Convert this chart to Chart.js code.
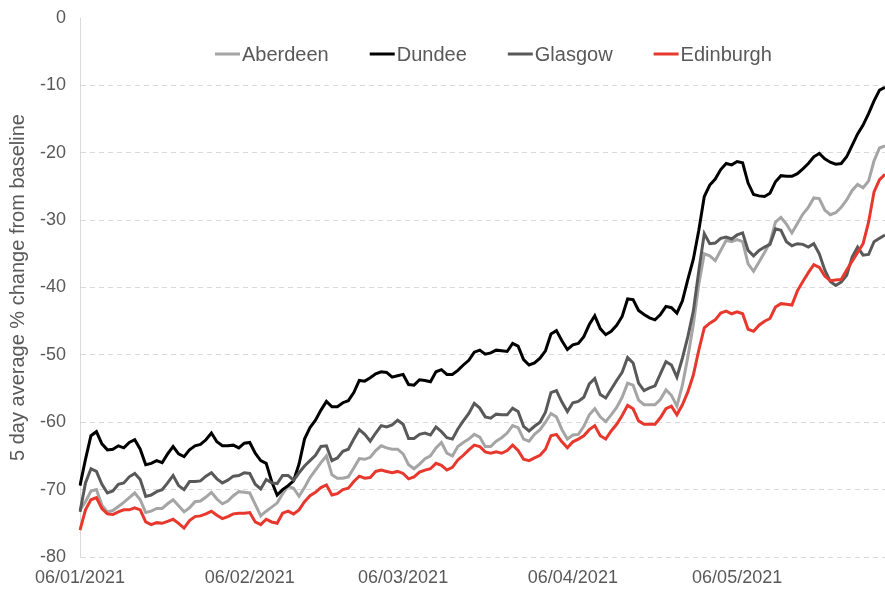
<!DOCTYPE html>
<html>
<head>
<meta charset="utf-8">
<title>5 day average % change from baseline</title>
<script src="https://cdn.jsdelivr.net/npm/chart.js@4.4.1/dist/chart.umd.min.js"></script>
<style>
  html, body { margin: 0; padding: 0; background: #fff; }
  #wrap { width: 885px; height: 592px; position: relative; }
</style>
</head>
<body>
<div id="wrap"><canvas id="chart"></canvas></div>
<script>
// daily values, 06/01/2021 onwards
const aberdeen = [
  -73.0, -71.8, -70.2, -70.0, -72.3, -73.3, -73.1, -72.5, -71.9, -71.2, -70.5, -71.5, -73.4, -73.2, -72.8, -72.8,
  -72.1, -71.5, -72.4, -73.3, -72.7, -71.8, -71.7, -71.1, -70.4, -71.4, -72.1, -71.7, -70.9, -70.3, -70.4, -70.5,
  -72.2, -73.9, -73.2, -72.6, -72.0, -70.6, -69.5, -69.8, -71.0, -69.7, -68.2, -67.1, -66.0, -65.0, -67.8, -68.3,
  -68.3, -68.1, -66.8, -65.4, -65.5, -65.2, -64.2, -63.5, -63.8, -64.0, -64.0, -64.7, -66.3, -66.9, -66.2, -65.4,
  -65.0, -63.8, -63.0, -64.6, -65.0, -63.6, -63.0, -62.5, -61.8, -62.2, -63.6, -63.6, -62.8, -62.3, -61.6, -60.5,
  -60.8, -62.5, -62.8, -61.8, -61.1, -60.0, -58.7, -59.2, -61.1, -62.5, -61.9, -61.8, -60.6, -58.9, -58.0, -59.2,
  -59.9, -58.9, -57.8, -56.3, -54.2, -54.5, -56.7, -57.4, -57.4, -57.4, -56.6, -55.2, -56.0, -57.6, -54.5, -50.3,
  -45.5, -39.5, -35.0, -35.3, -36.0, -34.5, -33.0, -33.2, -32.9, -33.2, -36.5, -37.6,
  -36.2, -34.8, -33.3, -30.3, -29.6, -30.6, -31.9, -30.5, -29.1, -28.1, -26.7, -26.8, -28.5, -29.2, -28.9, -28.1,
  -27.0, -25.6, -24.7, -25.2, -24.2, -21.2, -19.3, -19.0
];

const dundee = [
  -69.4, -65.5, -62.0, -61.4, -63.2, -64.1, -64.0, -63.5, -63.8, -63.0, -62.6, -64.0, -66.3, -66.1, -65.7, -66.0,
  -64.7, -63.6, -64.7, -65.1, -64.1, -63.5, -63.3, -62.6, -61.6, -62.9, -63.5, -63.5, -63.4, -63.8, -63.1, -63.0,
  -64.6, -65.7, -66.1, -68.8, -70.8, -70.0, -69.4, -68.7, -66.2, -62.5, -60.8, -59.7, -58.2, -56.9, -57.7, -57.7,
  -57.1, -56.8, -55.6, -53.8, -53.9, -53.4, -52.8, -52.5, -52.6, -53.3, -53.1, -52.9, -54.4, -54.5, -53.7, -53.8,
  -54.0, -52.5, -52.2, -52.9, -52.9, -52.3, -51.5, -50.8, -49.6, -49.3, -49.9, -49.7, -49.3, -49.4, -49.5, -48.3,
  -48.7, -50.7, -51.5, -51.2, -50.5, -49.4, -46.9, -46.4, -47.9, -49.2, -48.5, -48.3, -47.3, -45.5, -44.2, -46.1,
  -47.0, -46.5, -45.6, -44.3, -41.7, -41.8, -43.4, -44.0, -44.5, -44.8, -44.0, -42.8, -43.0, -43.8, -42.0, -38.8,
  -35.8, -31.5, -26.5, -24.8, -23.9, -22.5, -21.6, -21.8, -21.3, -21.5, -24.5, -26.2,
  -26.4, -26.5, -26.0, -24.3, -23.4, -23.5, -23.5, -23.1, -22.4, -21.6, -20.6, -20.1, -20.9, -21.4, -21.7, -21.6,
  -20.6, -18.9, -17.2, -15.9, -14.2, -12.3, -10.7, -10.3
];

const glasgow = [
  -73.3, -69.0, -66.9, -67.3, -69.2, -70.5, -70.2, -69.2, -69.0, -68.1, -67.6, -68.5, -71.0, -70.8, -70.3, -70.0,
  -69.0, -67.9, -69.4, -70.0, -68.8, -68.8, -68.7, -68.0, -67.5, -68.4, -69.0, -68.6, -68.0, -67.9, -67.5, -67.6,
  -69.2, -69.9, -68.5, -69.0, -69.1, -67.9, -67.9, -68.6, -67.5, -66.5, -65.7, -64.9, -63.6, -63.5, -65.7, -65.3,
  -64.3, -64.0, -62.5, -61.1, -61.8, -62.8, -61.6, -60.5, -60.7, -60.4, -59.7, -60.3, -62.4, -62.4, -61.8, -61.6,
  -61.9, -60.7, -61.4, -62.3, -62.5, -61.0, -59.8, -58.7, -57.2, -57.9, -59.2, -59.4, -58.8, -58.9, -58.9, -57.9,
  -58.4, -60.6, -61.3, -60.6, -60.0, -58.5, -55.6, -55.3, -57.0, -58.4, -57.1, -56.9, -56.3, -54.3, -53.5, -55.9,
  -56.4, -55.1, -53.8, -52.6, -50.4, -51.2, -54.2, -55.3, -54.9, -54.6, -52.8, -51.0, -51.5, -53.3, -50.5, -47.3,
  -43.5, -37.5, -32.0, -33.5, -33.4, -32.7, -32.5, -32.8, -32.2, -31.9, -34.5, -35.3,
  -34.5, -34.0, -33.6, -31.3, -31.5, -33.2, -33.8, -33.5, -33.6, -34.0, -33.5, -35.0, -37.4, -39.1, -39.7, -39.2,
  -38.2, -35.5, -34.0, -35.2, -35.1, -33.2, -32.7, -32.2
];

const edinburgh = [
  -76.0, -73.0, -71.5, -71.2, -72.8, -73.6, -73.7, -73.3, -73.0, -73.0, -72.7, -73.0, -74.8, -75.2, -74.9, -75.0,
  -74.7, -74.4, -75.0, -75.7, -74.6, -74.0, -73.9, -73.6, -73.2, -73.8, -74.3, -74.0, -73.6, -73.5, -73.5, -73.4,
  -74.8, -75.2, -74.4, -74.8, -75.0, -73.5, -73.2, -73.6, -73.0, -71.8, -70.9, -70.4, -69.7, -69.3, -70.8, -70.6,
  -70.0, -69.8, -68.8, -68.0, -68.3, -68.2, -67.3, -67.1, -67.3, -67.5, -67.3, -67.6, -68.4, -68.1, -67.4, -67.1,
  -66.9, -66.1, -66.4, -67.1, -66.7, -65.6, -64.9, -64.1, -63.4, -63.6, -64.4, -64.6, -64.4, -64.6, -64.2, -63.4,
  -64.2, -65.5, -65.7, -65.3, -64.9, -64.0, -62.0, -61.8, -62.9, -63.8, -62.9, -62.5, -62.0, -61.1, -60.5, -62.0,
  -62.5, -61.3, -60.3, -59.0, -57.5, -58.0, -59.8, -60.3, -60.3, -60.3, -59.3, -58.0, -57.6, -58.9, -57.4, -55.5,
  -53.0, -49.3, -46.0, -45.3, -44.8, -43.8, -43.5, -43.9, -43.6, -43.9, -46.2, -46.5,
  -45.6, -45.0, -44.6, -42.9, -42.4, -42.5, -42.6, -40.5, -39.1, -37.8, -36.6, -37.0, -38.3, -39.0, -38.9, -38.8,
  -37.4, -36.1, -34.8, -33.5, -30.3, -25.8, -24.0, -23.2
];

const seriesNames = ['Aberdeen', 'Dundee', 'Glasgow', 'Edinburgh'];
const tickLabels = ['06/01/2021', '06/02/2021', '06/03/2021', '06/04/2021', '06/05/2021'];

// one category per day starting 06/01/2021
const dates = [];
for (let i = 0; i < dundee.length; i++) {
  const d = new Date(Date.UTC(2021, 0, 6 + i));
  const dd = String(d.getUTCDate()).padStart(2, '0');
  const mm = String(d.getUTCMonth() + 1).padStart(2, '0');
  dates.push(`${dd}/${mm}/${d.getUTCFullYear()}`);
}

const FONT = "'Liberation Sans', Arial, sans-serif";
const TEXT = '#595959';
const GRID = '#d9d9d9';
const colours = ['#a5a5a5', '#000000', '#595959', '#e8382d'];

// legend drawn inside the plot, like the original
const innerLegend = {
  id: 'innerLegend',
  afterDraw(chart) {
    const ctx = chart.ctx;
    ctx.save();
    ctx.font = `20px ${FONT}`;
    ctx.textBaseline = 'middle';
    ctx.textAlign = 'left';
    let x = 215;
    const y = 54;
    chart.data.datasets.forEach(ds => {
      ctx.strokeStyle = ds.borderColor;
      ctx.lineWidth = 3;
      ctx.beginPath();
      ctx.moveTo(x, y);
      ctx.lineTo(x + 25, y);
      ctx.stroke();
      ctx.fillStyle = TEXT;
      ctx.fillText(ds.label, x + 27, y + 1);
      x += 27 + ctx.measureText(ds.label).width + 41;
    });
    ctx.restore();
  }
};

const values = [aberdeen, dundee, glasgow, edinburgh];

new Chart(document.getElementById('chart'), {
  type: 'line',
  data: {
    labels: dates,
    datasets: seriesNames.map((name, i) => ({
      label: name,
      data: values[i],
      borderColor: colours[i],
      backgroundColor: colours[i],
      borderWidth: 3,
      pointRadius: 0,
      pointHoverRadius: 0,
      tension: 0,
      order: 4 - i
    }))
  },
  options: {
    responsive: true,
    maintainAspectRatio: false,
    animation: false,
    layout: { autoPadding: false, padding: { top: 18, right: 0, bottom: 0, left: 0 } },
    plugins: {
      legend: { display: false },
      tooltip: { enabled: false }
    },
    scales: {
      x: {
        type: 'category',
        offset: false,
        grid: { display: false, drawTicks: false },
        border: { display: false },
        ticks: {
          autoSkip: false,
          maxRotation: 0,
          minRotation: 0,
          padding: 10,
          color: TEXT,
          font: { family: FONT, size: 18 },
          callback: function(value) {
            const lab = this.getLabelForValue(value);
            return tickLabels.includes(lab) ? lab : '';
          }
        },
        afterFit: scale => {
          scale.height = 35;
          scale.paddingLeft = 0;
          scale.paddingRight = 0;
        }
      },
      y: {
        min: -80,
        max: 0,
        grid: {
          color: ctx => ctx.tick && ctx.tick.value === 0 ? 'rgba(0,0,0,0)' : GRID,
          drawTicks: false
        },
        border: { display: true, color: GRID, width: 1, dash: [5, 4] },
        ticks: {
          stepSize: 10,
          padding: 14,
          color: TEXT,
          font: { family: FONT, size: 18 }
        },
        title: {
          display: true,
          text: '5 day average % change from baseline',
          color: TEXT,
          font: { family: FONT, size: 20 },
          padding: { top: 6, bottom: 0 }
        },
        afterFit: scale => {
          scale.width = 80;
          scale.paddingTop = 0;
          scale.paddingBottom = 0;
        }
      }
    }
  },
  plugins: [innerLegend]
});
</script>
</body>
</html>
